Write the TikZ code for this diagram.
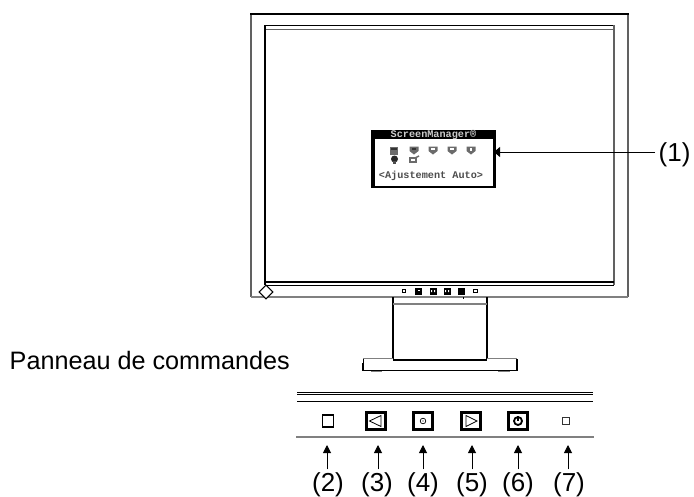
\documentclass[tikz,border=0pt]{standalone}
\usepackage{fontspec}
\setmainfont{Liberation Sans}
\newfontfamily\osdfont{Liberation Mono}
\usetikzlibrary{arrows.meta}
\definecolor{framegray}{gray}{0.38}
\definecolor{softgray}{gray}{0.5}
\definecolor{icongray}{gray}{0.42}
\tikzset{
  blk/.style={draw=black,line width=1.8pt},
  thin blk/.style={draw=black,line width=1.1pt},
  gry/.style={draw=framegray,line width=2.1pt},
  arr/.style={draw=black,line width=1pt,-{Triangle[length=8pt,width=8pt]}},
  lbl/.style={font=\fontsize{26}{30}\selectfont,inner sep=0pt,anchor=base,text height=21.5pt,text depth=4pt},
  panelkey/.style={draw=black,line width=2.1pt,fill=white,minimum width=19pt,minimum height=17pt,inner sep=0pt},
  monkey/.style={fill=black,minimum width=7pt,minimum height=7pt,inner sep=0pt},
  monsmall/.style={draw=black,line width=1.4pt,fill=white,minimum width=3.5pt,minimum height=3.5pt,inner sep=0pt},
  osdtext/.style={font=\osdfont\bfseries\fontsize{10.2}{12}\selectfont,inner sep=0pt},
  ico/.style={fill=icongray,draw=none},
}
\begin{document}
\begin{tikzpicture}[x=1pt,y=-1pt]
\useasboundingbox (0,0) rectangle (694,496);
% monitor outer frame
\draw[gry] (251,14) -- (251,297);
\draw[gry] (628,14) -- (628,297);
\draw[line width=1.9pt] (250,14) -- (629,14);
\draw[draw=softgray,line width=1.9pt] (251,297) -- (628,297);
% screen
\draw[draw=black,line width=1.7pt] (265,25.5) -- (614,25.5);
\draw[draw=framegray,line width=1.5pt] (265,29.5) -- (614,29.5);
\draw[blk] (265,25) -- (265,285);
\draw[gry] (614,25) -- (614,285);
\draw[line width=1.8pt] (265,282) -- (614,282);
\draw[line width=1.2pt] (265,285.3) -- (614,285.3);
% diamond
\node[draw=black,line width=1.1pt,fill=white,minimum width=12pt,minimum height=12pt,inner sep=0pt,rotate=45,scale=0.8] (diam) at (266,292) {};
% monitor keys
\node[monsmall] (m1) at (404,291) {};
\node[monkey] (m2) at (418,291) {};
\node[monkey] (m3) at (433,291) {};
\node[monkey] (m4) at (447,291) {};
\node[monkey] (m5) at (461.5,291) {};
\node[monsmall,line width=1.2pt] (m6) at (475.5,291) {};
\fill[white] (418,290) rectangle (420,291);
\fill[white] (431,290) rectangle (432,292) (434,290) rectangle (435,292);
\fill[white] (445,290) rectangle (446,292) (448,290) rectangle (449,292);
% stand
\draw[blk] (393,297) -- (393,359);
\draw[blk] (487,297) -- (487,359);
\draw[draw=softgray,line width=1.4pt] (393,304) -- (487,304);
\draw[line width=0.8pt] (463,297) -- (463,299);
% base
\draw[thin blk] (363,363) -- (363,370.5) -- (517,370.5) -- (517,359);
\draw[draw=softgray,line width=1.2pt] (363,358.8) -- (393,358.8);
\draw[draw=softgray,line width=1.2pt] (487,358.8) -- (517,358.8);
\draw[draw=black,line width=1pt] (363,359) -- (363,364);
\draw[line width=1.9pt] (393,359.6) -- (487,359.6);
\draw[draw=softgray,line width=1.2pt] (371,371.5) -- (382,371.5);
\draw[draw=softgray,line width=1.2pt] (498,371.5) -- (510,371.5);
% OSD
\node[fill=black,minimum width=125pt,minimum height=58pt,inner sep=0pt] (osd) at (433.5,159) {};
\node[fill=white,minimum width=118pt,minimum height=47pt,inner sep=0pt] (osdin) at (433.5,162) {};
\node[osdtext,text=white!80!black] (osdtitle) at (433.5,134.5) {ScreenManager®};
\node[osdtext,text=black!70] (osdmsg) at (431,176) {<Ajustement Auto>};
% OSD icons
\fill[ico] (390,147) rectangle (398,155);
\fill[black!80] (391,148) rectangle (397,150);
\fill[ico] (409.5,146.5) -- (418.5,146.5) -- (418.5,151) -- (414,154.5) -- (409.5,151) -- cycle;
\fill[black!80] (412,148) rectangle (416,150);
\fill[ico] (428.5,146.5) -- (437.5,146.5) -- (437.5,151) -- (433,154.5) -- (428.5,151) -- cycle;
\fill[white] (431,148) rectangle (435,150);
\fill[ico] (447.5,146.5) -- (456.5,146.5) -- (456.5,151) -- (452,154.5) -- (447.5,151) -- cycle;
\fill[white] (450,148) rectangle (454,150);
\fill[ico] (466.5,146.5) -- (475.5,146.5) -- (475.5,151) -- (471,154.5) -- (466.5,151) -- cycle;
\fill[white] (470,148) rectangle (472,150.5);
\fill[black!85] (394.5,159) circle (3.5);
\fill[black!70] (393,161) rectangle (396,164);
\draw[draw=icongray,line width=1.4pt] (410,158) rectangle (416,162);
\draw[draw=icongray,line width=1.4pt] (415,158) -- (419,156);
% connector (1)
\node[lbl,anchor=base west] (l1) at (658.5,161) {(1)};
\coordinate (t1) at (494,152);
\draw[draw=black,line width=1pt,-{Triangle[length=6pt,width=10pt]}] (l1.west |- t1) ++(-3.5,0) -- (t1);
% panel
\node[font=\fontsize{25.2}{30}\selectfont,inner sep=0pt,anchor=base west] (title) at (9.5,369) {Panneau de commandes};
\coordinate (pl1) at (297,392.7); \coordinate (pr1) at (593,392.7);
\coordinate (pl2) at (297,394.8); \coordinate (pr2) at (593,394.8);
\coordinate (pl3) at (297,401.3); \coordinate (pr3) at (593,401.3);
\coordinate (pl4) at (296,437); \coordinate (pr4) at (594,437);
\draw[line width=0.9pt] (pl1) -- (pr1);
\draw[line width=0.9pt] (pl2) -- (pr2);
\draw[line width=1.1pt] (pl3) -- (pr3);
\draw[draw=softgray,line width=1.8pt] (pl4) -- (pr4);
% panel keys
\node[draw=black,line width=1.4pt,minimum width=11pt,minimum height=12pt,inner sep=0pt] (k2) at (328,421) {};
\node[panelkey] (k3) at (376,421) {};
\node[panelkey] (k4) at (423,421) {};
\node[panelkey] (k5) at (471,421) {};
\node[panelkey] (k6) at (518,421) {};
\node[draw=black!80,line width=1.2pt,minimum width=6.5pt,minimum height=6.5pt,inner sep=0pt] (k7) at (566,421) {};
\draw[line width=0.8pt] (381,415.5) -- (381,426.5) -- (369.5,421) -- cycle;
\draw[line width=0.7pt] (423,421) circle (2.8);
\fill (423,421) circle (0.6);
\draw[line width=0.8pt] (466,415.5) -- (466,426.5) -- (477,421) -- cycle;
\draw[line width=1.8pt] (518,421) circle (4);
\draw[line width=1.8pt] (518,416) -- (518,421);
% labels and arrows
\node[lbl] (l2) at (328,491.5) {(2)};
\node[lbl] (l3) at (377,491.5) {(3)};
\node[lbl] (l4) at (423,491.5) {(4)};
\node[lbl] (l5) at (472,491.5) {(5)};
\node[lbl] (l6) at (518,491.5) {(6)};
\node[lbl] (l7) at (569,491.5) {(7)};
\coordinate (t2) at (327,445);
\coordinate (t3) at (378,445);
\coordinate (t4) at (423,445);
\coordinate (t5) at (472,445);
\coordinate (t6) at (518,445);
\coordinate (t7) at (568,445);
\foreach \n in {2,...,7} {\draw[arr] (t\n |- l\n.north) ++(0,-0.5) -- (t\n);}
\end{tikzpicture}
\end{document}
